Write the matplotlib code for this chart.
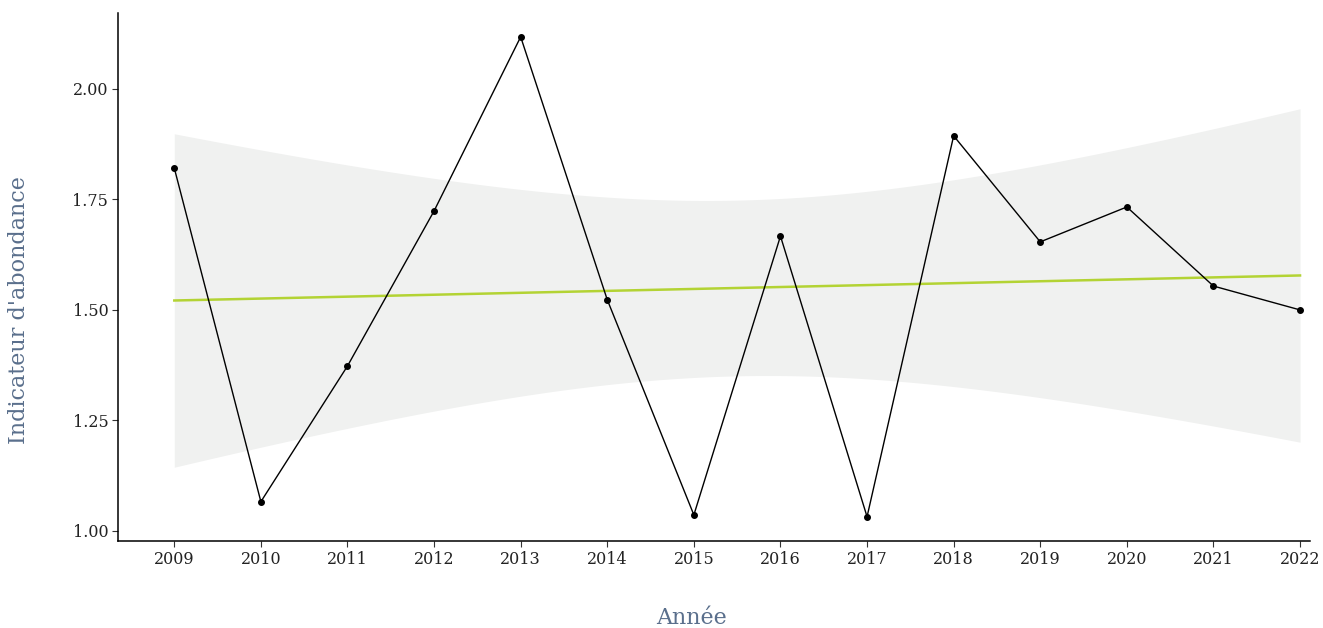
import numpy as np
import matplotlib
matplotlib.use("Agg")
import matplotlib.pyplot as plt

years = [2009, 2010, 2011, 2012, 2013, 2014, 2015, 2016, 2017, 2018, 2019, 2020, 2021, 2022]
abundance = [1.821, 1.066, 1.373, 1.724, 2.118, 1.523, 1.036, 1.667, 1.032, 1.894,
             1.654, 1.733, 1.554, 1.500]
y_ticks = [1.00, 1.25, 1.50, 1.75, 2.00]
y_tick_labels = ["1.00", "1.25", "1.50", "1.75", "2.00"]

x = np.array(years, dtype=float)
y = np.array(abundance)

# linear fit with 95% confidence band
n = len(x)
slope, intercept = np.polyfit(x, y, 1)
resid = y - (slope * x + intercept)
s = np.sqrt(np.sum(resid ** 2) / (n - 2))
t_crit = 2.1788  # Student t, 0.975 quantile, df = 12
xg = np.linspace(x.min(), x.max(), 200)
yg = slope * xg + intercept
se = s * np.sqrt(1 / n + (xg - x.mean()) ** 2 / np.sum((x - x.mean()) ** 2))
lo, hi = yg - t_crit * se, yg + t_crit * se

plt.rcParams["font.family"] = ["DejaVu Serif"]
fig = plt.figure(figsize=(13.23, 6.28), dpi=100)
ax = fig.add_axes([118 / 1323, 87 / 628, 1192 / 1323, 528 / 628])

ax.fill_between(xg, lo, hi, color="#f0f1f0", linewidth=0, zorder=1)
ax.plot(xg, yg, color="#b3d334", linewidth=1.8, zorder=2)
ax.plot(x, y, color="black", linewidth=1.0, marker="o", markersize=4, zorder=3)

ax.set_xlim(2008.35, 2022.115)
ax.set_ylim(0.977, 2.172)
ax.set_xticks(years)
ax.set_xticklabels([str(v) for v in years])
ax.set_yticks(y_ticks)
ax.set_yticklabels(y_tick_labels)

for side in ["top", "right"]:
    ax.spines[side].set_visible(False)
for side in ["left", "bottom"]:
    ax.spines[side].set_linewidth(1.1)
    ax.spines[side].set_color("black")

ax.tick_params(axis="both", labelsize=11.5, colors="#222222", length=4, width=0.8,
               pad=3)
ax.tick_params(axis="both", color="#333333")

title_color = "#5a6f8c"
ax.set_xlabel("Année", fontsize=16, color=title_color)
ax.set_ylabel("Indicateur d'abondance", fontsize=16, color=title_color)
ax.xaxis.set_label_coords(0.481, -0.125)
ax.yaxis.set_label_coords(-0.074, 0.4375)

fig.savefig("out.png", dpi=100)
